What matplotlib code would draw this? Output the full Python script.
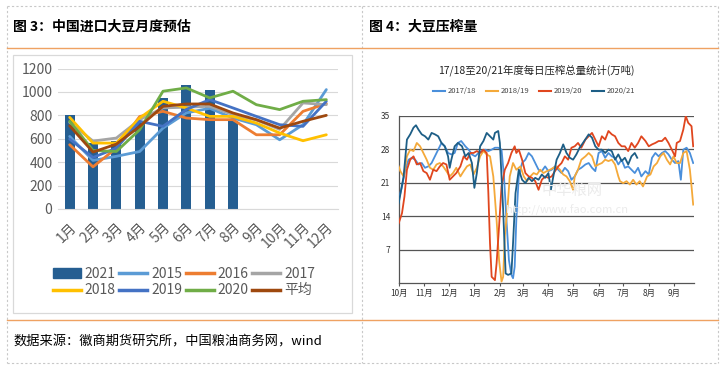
import matplotlib
matplotlib.use("Agg")
import matplotlib.pyplot as plt
from matplotlib.lines import Line2D
from matplotlib.patches import Rectangle, Patch

plt.rcParams['font.family'] = ['Noto Sans CJK SC', 'DejaVu Sans']

# ---- figure 3 data (10k tonnes) ----
months = ['1月', '2月', '3月', '4月', '5月', '6月', '7月', '8月', '9月', '10月', '11月', '12月']
imp_2021 = [806, 560, 580, 740, 950, 1063, 1020, 750]
imp_2015 = [620, 415, 450, 491, 691, 821, 860, 777, 720, 591, 720, 1020]
imp_2016 = [549, 360, 520, 790, 834, 777, 763, 763, 634, 634, 834, 900]
imp_2017 = [740, 580, 606, 763, 863, 870, 877, 806, 760, 680, 906, 891]
imp_2018 = [783, 563, 563, 777, 920, 863, 791, 791, 734, 649, 583, 634]
imp_2019 = [597, 440, 520, 749, 706, 850, 934, 863, 791, 720, 706, 920]
imp_2020 = [749, 500, 491, 677, 1006, 1034, 949, 1006, 891, 849, 920, 934]
imp_avg = [711, 486, 554, 705, 877, 897, 897, 820, 763, 691, 749, 800]

# ---- figure 4 data: days since Oct 1, crush (10k tonnes) ----
d_1718 = [0, 4, 8, 12, 16, 20, 24, 28, 32, 36, 40, 44, 48, 52, 56, 60, 64, 68, 72, 76, 81, 85, 89, 93, 97,
          101, 105, 109, 113, 117, 121, 125, 128, 131, 134, 137, 139, 141, 143, 146, 150, 154, 158, 162, 166,
          170, 174, 178, 182, 186, 190, 194, 198, 202, 206, 210, 214, 218, 222, 227, 231, 235, 239, 243, 247,
          251, 255, 259, 263, 267, 271, 275, 279, 283, 287, 291, 295, 300, 304, 308, 312, 316, 320, 324, 328,
          332, 336, 340, 343, 346, 350, 354, 358]
v_1718 = [17.4, 20.2, 23.7, 25.8, 26.2, 25.8, 24.8, 25.1, 24.1, 24.4, 25.1, 26.5, 27.9, 29.3, 28.6, 27.2,
          26.9, 27.2, 29.3, 29.7, 28.6, 27.9, 26.9, 26.5, 27.2, 27.6, 27.9, 27.6, 27.9, 28.3, 28.3, 27.9, 22.3,
          13.2, 4.8, 1.7, 1.0, 3.4, 13.2, 22.3, 25.1, 25.8, 27.2, 26.5, 25.1, 23.7, 23.4, 24.4, 23.4, 23.7,
          24.4, 23.7, 23.0, 24.1, 23.4, 21.6, 22.3, 23.7, 24.1, 24.8, 25.1, 24.1, 23.4, 27.2, 27.6, 26.2, 27.2,
          26.5, 26.2, 24.8, 25.8, 24.1, 24.4, 23.7, 23.0, 24.1, 22.3, 23.4, 22.7, 26.2, 27.2, 26.5, 27.2, 27.6,
          26.9, 25.8, 25.1, 25.5, 21.6, 27.9, 28.3, 27.2, 25.1]

d_1819 = [0, 2, 6, 10, 14, 18, 22, 26, 30, 34, 38, 42, 46, 50, 54, 58, 62, 66, 70, 75, 79, 83, 87, 91, 95,
          99, 103, 107, 111, 115, 119, 122, 125, 127, 129, 133, 135, 139, 143, 148, 152, 156, 160, 164, 168,
          172, 176, 180, 184, 188, 192, 196, 200, 204, 208, 212, 214, 218, 222, 227, 231, 235, 239, 243, 247,
          251, 255, 259, 263, 267, 269, 273, 277, 281, 285, 289, 293, 297, 302, 306, 310, 314, 318, 322, 326,
          330, 334, 338, 342, 346, 350, 354, 356, 358]
v_1819 = [24.4, 23.4, 22.3, 26.5, 27.9, 27.6, 29.3, 28.6, 27.2, 25.8, 24.1, 23.7, 24.8, 25.1, 24.4, 23.4,
          22.3, 23.0, 24.1, 22.3, 23.4, 24.4, 24.8, 22.7, 24.1, 26.5, 27.6, 26.9, 26.5, 22.3, 13.2, 4.8, 0.3,
          1.3, 9.7, 17.4, 22.3, 25.1, 23.7, 24.4, 22.3, 21.3, 22.3, 23.0, 22.7, 23.7, 23.0, 23.4, 23.7, 24.1,
          24.4, 23.7, 22.7, 22.3, 21.3, 19.5, 22.3, 23.7, 25.8, 26.5, 27.2, 26.5, 24.4, 24.8, 25.1, 25.8, 25.5,
          25.8, 24.8, 22.3, 21.3, 20.9, 21.3, 20.6, 21.6, 20.6, 21.3, 20.2, 22.3, 22.7, 24.4, 25.1, 26.5, 27.2,
          25.8, 24.8, 26.5, 25.1, 25.1, 27.2, 27.6, 23.7, 20.2, 16.4]

d_1920 = [0, 4, 7, 10, 14, 18, 22, 26, 30, 34, 38, 42, 46, 50, 54, 58, 62, 66, 70, 75, 79, 83, 87, 91, 95,
          99, 103, 107, 109, 111, 113, 117, 119, 122, 125, 129, 133, 137, 141, 143, 146, 150, 154, 158, 162,
          166, 170, 174, 178, 182, 186, 190, 194, 198, 202, 206, 210, 214, 218, 222, 227, 231, 235, 239, 243,
          247, 251, 255, 259, 263, 267, 271, 275, 279, 283, 287, 291, 295, 300, 304, 308, 312, 316, 320, 324,
          328, 332, 336, 338, 342, 346, 349, 352, 356, 358]
v_1920 = [12.5, 14.6, 18.1, 23.7, 25.8, 26.5, 24.8, 25.1, 23.4, 23.0, 21.6, 23.7, 23.4, 24.4, 25.1, 24.8,
          21.6, 22.3, 23.0, 24.4, 26.5, 25.8, 27.2, 27.2, 27.6, 27.2, 27.9, 27.2, 18.8, 8.3, 1.3, 0.6, 4.1,
          11.8, 20.2, 23.7, 25.1, 27.2, 28.6, 27.2, 27.9, 25.8, 23.0, 22.3, 22.0, 21.3, 19.5, 21.6, 22.3, 22.0,
          22.3, 23.4, 24.4, 25.1, 26.5, 25.8, 28.3, 28.6, 29.3, 28.3, 30.0, 30.7, 31.4, 30.0, 28.6, 30.7, 30.0,
          31.8, 31.1, 30.7, 29.3, 28.6, 28.6, 27.6, 29.3, 28.3, 29.3, 30.7, 29.7, 28.6, 29.0, 29.3, 29.7, 29.7,
          30.4, 29.3, 27.9, 26.5, 29.3, 29.7, 32.1, 34.9, 33.5, 32.8, 28.6]

d_2021 = [0, 6, 10, 14, 18, 21, 24, 28, 32, 36, 40, 44, 48, 52, 56, 60, 62, 64, 68, 72, 77, 81, 85, 89, 92,
          95, 99, 103, 107, 111, 115, 117, 121, 123, 127, 130, 133, 137, 139, 142, 146, 150, 154, 158, 162,
          166, 170, 174, 178, 182, 185, 188, 192, 196, 200, 204, 208, 212, 216, 220, 224, 231, 235, 239, 243,
          247, 251, 255, 259, 263, 267, 271, 275, 279, 283, 287, 290]
v_2021 = [16.7, 22.3, 30.0, 31.1, 32.5, 33.0, 32.1, 31.1, 30.7, 30.0, 31.4, 31.1, 30.7, 29.3, 28.6, 26.5,
          24.1, 25.8, 28.6, 29.3, 28.6, 26.5, 27.2, 25.1, 19.9, 23.0, 28.6, 29.7, 31.4, 30.7, 30.0, 31.4, 31.8,
          29.3, 15.3, 2.0, 1.7, 2.0, 8.3, 18.8, 23.7, 21.6, 20.9, 22.0, 21.3, 22.0, 21.6, 22.7, 22.0, 23.0,
          19.5, 22.3, 25.8, 27.2, 29.0, 27.2, 26.2, 25.8, 26.9, 28.3, 29.3, 31.1, 30.4, 28.6, 27.9, 27.9, 27.2,
          27.9, 27.6, 25.8, 26.9, 25.5, 26.2, 24.8, 26.5, 27.2, 26.2]

crush_ticks = [0, 31, 61, 92, 123, 151, 182, 212, 243, 273, 304, 335]
crush_labels = ['10月', '11月', '12月', '1月', '2月', '3月', '4月', '5月', '6月', '7月', '8月', '9月']

W, H = 723, 370


def fx(px):
    return px / W


def fy(py):
    return 1 - py / H


def box(l, t, r, b):
    return [fx(l), fy(b), fx(r) - fx(l), fy(t) - fy(b)]


fig = plt.figure(figsize=(W / 100, H / 100), dpi=100)
fig.patch.set_facecolor('white')

# table borders
dash = dict(color='#C8C8C8', lw=0.8, ls=(0, (2, 2)))
for xs, ys in [((7, 718), (6, 6)), ((7, 718), (363, 363)), ((7, 7), (6, 363)),
               ((718, 718), (6, 363)), ((362, 362), (6, 363))]:
    fig.add_artist(Line2D([fx(xs[0]), fx(xs[1])], [fy(ys[0]), fy(ys[1])], **dash))
for yy in (48, 320):
    fig.add_artist(Line2D([fx(7), fx(718)], [fy(yy), fy(yy)], color='#EFA262', lw=1.0))

fig.text(fx(13), fy(27), '图 3：中国进口大豆月度预估', fontsize=10, fontweight='bold', va='center', ha='left')
fig.text(fx(369), fy(27), '图 4：大豆压榨量', fontsize=10, fontweight='bold', va='center', ha='left')
fig.text(fx(13), fy(342), '数据来源：徽商期货研究所，中国粮油商务网，wind', fontsize=9.5, va='center', ha='left')

# ---------- left chart ----------
fig.add_artist(Rectangle((fx(13), fy(313)), fx(352) - fx(13), fy(55) - fy(313),
                         transform=fig.transFigure, fill=False, ec='#D9D9D9', lw=0.9))
ax1 = fig.add_axes(box(58, 68.5, 338, 209))
x12 = list(range(12))
ax1.bar(range(len(imp_2021)), imp_2021, width=0.43, color='#255E91', zorder=2)
series = [(imp_2015, '#5B9BD5', '2015'), (imp_2016, '#ED7D31', '2016'), (imp_2017, '#A5A5A5', '2017'),
          (imp_2018, '#FFC000', '2018'), (imp_2019, '#4472C4', '2019'), (imp_2020, '#70AD47', '2020'),
          (imp_avg, '#9E480E', '平均')]
for vals, col, lab in series:
    ax1.plot(x12, vals, color=col, lw=2.0, zorder=3, solid_capstyle='round')
ax1.set_xlim(-0.5, 11.5)
ax1.set_ylim(0, 1200)
ax1.set_yticks(range(0, 1201, 200))
ax1.set_xticks(x12)
ax1.set_xticklabels(months, rotation=45, ha='right', rotation_mode='anchor')
ax1.tick_params(length=0, labelsize=10, labelcolor='#595959', pad=4)
ax1.tick_params(axis='x', pad=8)
ax1.yaxis.grid(True, color='#D9D9D9', lw=0.8)
ax1.set_axisbelow(True)
for s in ax1.spines.values():
    s.set_visible(False)
ax1.spines['bottom'].set_visible(True)
ax1.spines['bottom'].set_color('#D9D9D9')

handles = [Patch(color='#255E91', label='2021')]
for vals, col, lab in series:
    handles.append(Line2D([], [], color=col, lw=2.5, label=lab))
# legend fills column by column, reorder so rows read left to right
handles = [handles[i] for i in (0, 4, 1, 5, 2, 6, 3, 7)]
fig.legend(handles=handles, ncol=4, loc='center', bbox_to_anchor=(fx(184), fy(282)), frameon=False,
           fontsize=10, handlelength=2.0, handletextpad=0.3, columnspacing=0.25, labelspacing=0.2,
           labelcolor='#595959')

# ---------- right chart ----------
ax2 = fig.add_axes(box(398.7, 115.7, 694, 283))
crush = [(d_1718, v_1718, '#4A8FDB', '2017/18'), (d_1819, v_1819, '#F4A93A', '2018/19'),
         (d_1920, v_1920, '#E0461E', '2019/20'), (d_2021, v_2021, '#1D5E86', '2020/21')]
for d, v, col, lab in crush:
    ax2.plot(d, v, color=col, lw=1.3, label=lab, zorder=3)
ax2.set_xlim(0, 359)
ax2.set_ylim(0, 35)
ax2.set_yticks([7, 14, 21, 28, 35])
ax2.set_xticks(crush_ticks)
ax2.set_xticklabels(crush_labels)
ax2.yaxis.grid(True, color='#555555', lw=0.9)
ax2.set_axisbelow(True)
ax2.tick_params(axis='y', length=0, labelsize=6, labelcolor='#333333', pad=6)
ax2.tick_params(axis='x', length=2, color='#555555', labelsize=6, labelcolor='#333333', pad=2)
for s in ('top', 'right'):
    ax2.spines[s].set_visible(False)
for s in ('left', 'bottom'):
    ax2.spines[s].set_color('#555555')
    ax2.spines[s].set_linewidth(0.9)

fig.text(fx(536), fy(70), '17/18至20/21年度每日压榨总量统计(万吨)', fontsize=7.5, ha='center', va='center',
         color='#222222')
leg_h = [Line2D([], [], color=c, lw=1.5, label=l) for _, _, c, l in crush]
fig.legend(handles=leg_h, ncol=4, loc='center', bbox_to_anchor=(fx(534), fy(91.5)), frameon=False,
           fontsize=5.5, handlelength=1.6, handletextpad=0.4, columnspacing=1.2, labelcolor='#444444')

# faint watermark
fig.text(fx(572), fy(190), '中华粮网', fontsize=11, color='#EBEBEB', ha='center', va='center', zorder=0)
fig.text(fx(567), fy(210), 'http://www.fao.com.cn', fontsize=8, color='#EBEBEB', ha='center', va='center',
         zorder=0)

fig.savefig('out.png', dpi=100)
